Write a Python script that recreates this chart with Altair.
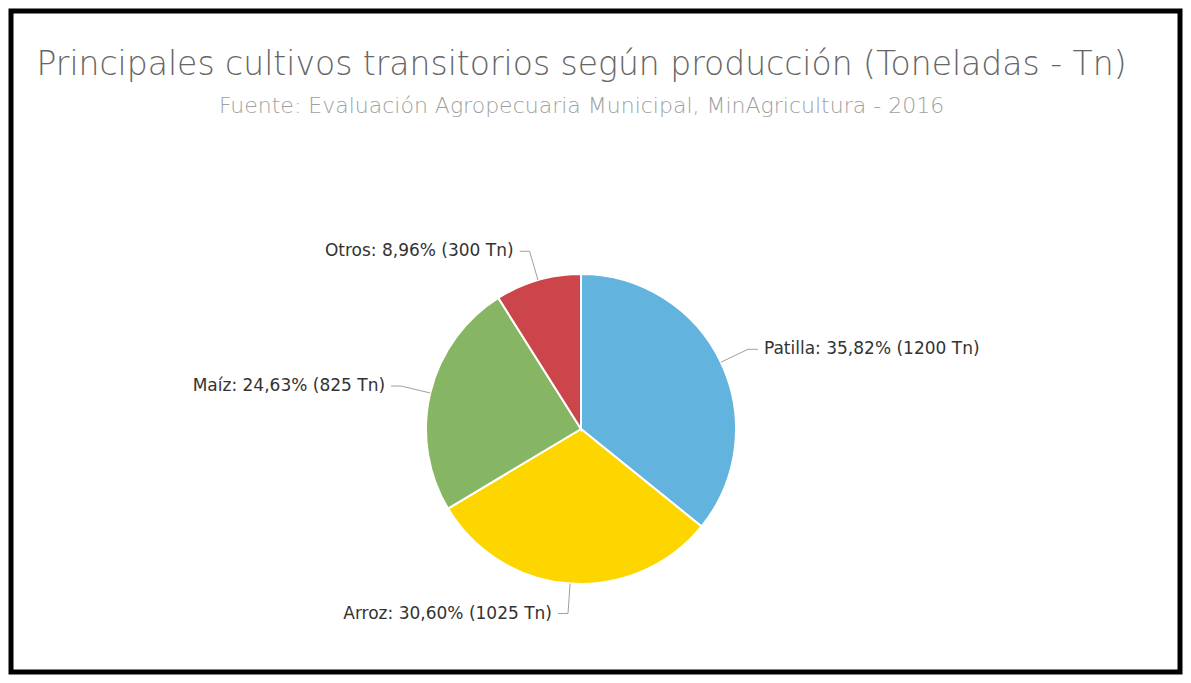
import altair as alt
import pandas as pd

# ---- data ----
categories = ["Patilla", "Arroz", "Maíz", "Otros"]
values_tn = [1200, 1025, 825, 300]
slice_order = [0, 1, 2, 3]
colors = ["#62B4DE", "#FDD600", "#86B664", "#CC454A"]

title_text = "Principales cultivos transitorios según producción (Toneladas - Tn)"
subtitle_text = "Fuente: Evaluación Agropecuaria Municipal, MinAgricultura - 2016"

df = pd.DataFrame({"cultivo": categories, "tn": values_tn, "orden": slice_order})

# ---- layout constants ----
W, H = 1169, 661
CX, CY = 570, 418   # pie centre inside the plot area
R = 155             # pie radius
RB = R + 30         # connector break radius
HSEG = 10           # horizontal connector length
GAP = 6             # gap between connector and text

xscale = alt.Scale(domain=[-CX, W - CX], nice=False, zero=False)
yscale = alt.Scale(domain=[-CY, H - CY], nice=False, zero=False, reverse=True)

base = (
    alt.Chart(df)
    .transform_joinaggregate(total="sum(tn)")
    .transform_window(cum="sum(tn)", sort=[alt.SortField("orden")], frame=[None, 0])
    .transform_calculate(
        mid="2*PI*(datum.cum - datum.tn/2)/datum.total",
        pct="100*datum.tn/datum.total",
    )
    .transform_calculate(
        side="sin(datum.mid) >= 0 ? 1 : -1",
        x1=f"{R}*sin(datum.mid)",
        y1=f"-{R}*cos(datum.mid)",
        x2=f"{RB}*sin(datum.mid)",
        y2=f"-{RB}*cos(datum.mid)",
        label="datum.cultivo + ': ' + replace(format(datum.pct, '.2f'), '.', ',') + '% (' + datum.tn + ' Tn)'",
    )
    .transform_calculate(
        x3=f"datum.x2 + datum.side*{HSEG}",
        xt=f"datum.x2 + datum.side*{HSEG + GAP}",
    )
)

pie = (
    alt.Chart(df)
    .mark_arc(outerRadius=R, stroke="white", strokeWidth=2)
    .encode(
        theta=alt.Theta("tn:Q", stack=True),
        order=alt.Order("orden:Q"),
        color=alt.Color(
            "cultivo:N",
            scale=alt.Scale(domain=categories, range=colors),
            legend=None,
        ),
        x=alt.value(CX),
        y=alt.value(CY),
    )
)

seg1 = base.mark_rule(color="#a0a0a0", strokeWidth=1).encode(
    x=alt.X("x1:Q", scale=xscale, axis=None),
    y=alt.Y("y1:Q", scale=yscale, axis=None),
    x2="x2:Q",
    y2="y2:Q",
)
seg2 = base.mark_rule(color="#a0a0a0", strokeWidth=1).encode(
    x=alt.X("x2:Q", scale=xscale, axis=None),
    y=alt.Y("y2:Q", scale=yscale, axis=None),
    x2="x3:Q",
    y2="y2:Q",
)

lab_font = dict(font="DejaVu Sans", fontSize=17, color="#333333", baseline="middle")
labels_r = (
    base.transform_filter("datum.side > 0")
    .mark_text(align="left", **lab_font)
    .encode(
        x=alt.X("xt:Q", scale=xscale, axis=None),
        y=alt.Y("y2:Q", scale=yscale, axis=None),
        text="label:N",
    )
)
labels_l = (
    base.transform_filter("datum.side < 0")
    .mark_text(align="right", **lab_font)
    .encode(
        x=alt.X("xt:Q", scale=xscale, axis=None),
        y=alt.Y("y2:Q", scale=yscale, axis=None),
        text="label:N",
    )
)

chart = (
    alt.layer(pie, seg1, seg2, labels_r, labels_l)
    .properties(
        width=W,
        height=H,
        padding=3,
        autosize=alt.AutoSizeParams(type="none"),
        background="white",
        title=alt.TitleParams(
            text=title_text,
            subtitle=subtitle_text,
            font="DejaVu Sans",
            fontSize=33,
            fontWeight=200,
            color="#666666",
            subtitleFont="DejaVu Sans",
            subtitleFontSize=22,
            subtitleFontWeight=200,
            subtitleColor="#a0a0a0",
            subtitlePadding=14,
            anchor="middle",
            orient="top",
            offset=-106,
            dx=-14,
        ),
    )
    .configure_view(stroke="black", strokeWidth=5)
)

chart.save("out.html", embed_options={"renderer": "svg", "actions": False})
